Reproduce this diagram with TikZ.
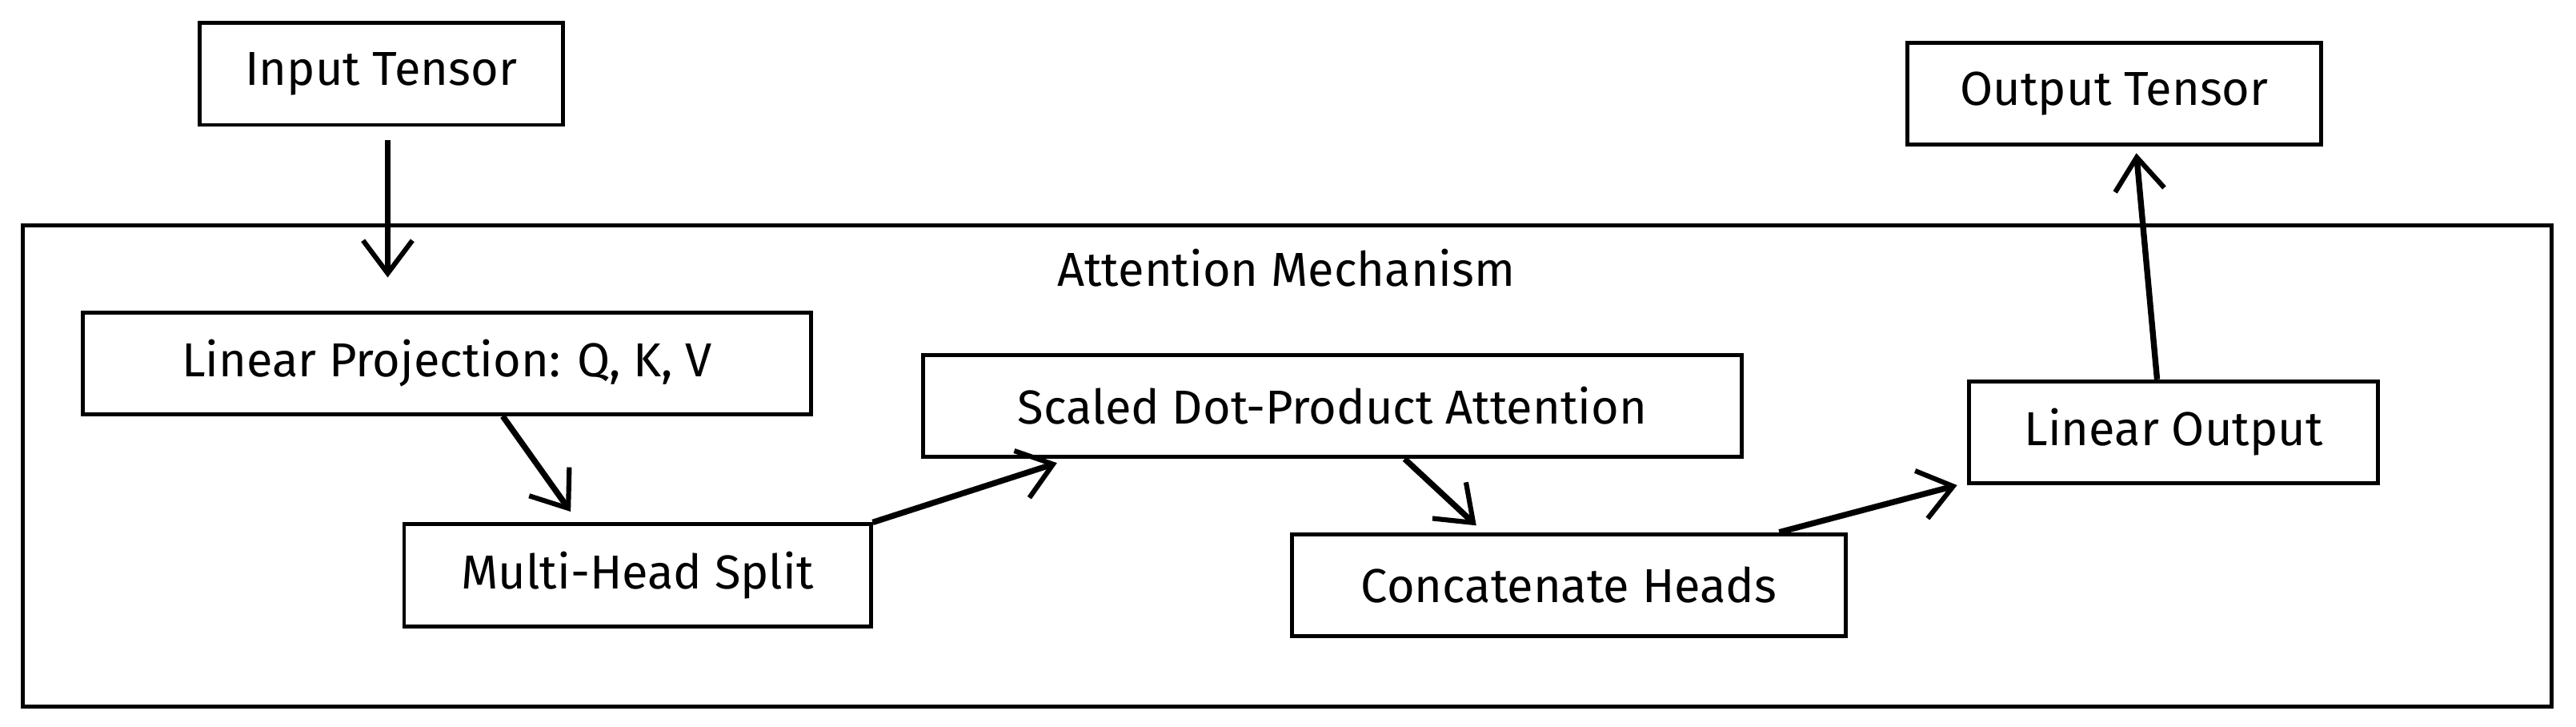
\documentclass[tikz,border=0pt]{standalone}
\usepackage{fontspec}
\setmainfont{Fira Sans}
\usetikzlibrary{arrows.meta, calc}
\tikzset{%
	box/.style={draw, line width=1.2pt, rectangle, inner sep=0pt, minimum height=31pt,%
		font=\fontsize{14.5}{16}\selectfont},
	group/.style={draw, line width=1.2pt, rectangle, inner sep=0pt},
	flow/.style={-{Straight Barb[length=10pt, width=15pt, line width=1.5pt]}, line width=1.8pt}
}
\begin{document}
\begin{tikzpicture}[x=0.5pt, y=-0.5pt]
	\useasboundingbox (0,0) rectangle (1568,442);
	\node[group, minimum width=769.5pt, minimum height=146.5pt] (attn) at (783.5,283.5) {};
	\node[font=\fontsize{14.5}{16}\selectfont] (title) at (783,163) {Attention Mechanism};

	\node[box, minimum width=110.5pt] (input) at (232,45) {Input Tensor};
	\node[box, minimum width=126pt] (output) at (1287,57) {Output Tensor};
	\node[box, minimum width=221.5pt] (lin) at (272,221) {Linear Projection: Q, K, V};
	\node[box, minimum width=142pt] (split) at (388,350) {Multi-Head Split};
	\node[box, minimum width=249pt] (scaled) at (811,247) {Scaled Dot-Product Attention};
	\node[box, minimum width=168.5pt] (concat) at (955,356) {Concatenate Heads};
	\node[box, minimum width=124.5pt] (linout) at (1323,263) {Linear Output};

	\draw[flow, shorten <=4pt, shorten >=10pt] ([xshift=2pt]input.south) to ([xshift=2pt]input.south |- lin.north);
	\draw[flow, shorten >=4pt] ([xshift=17pt]lin.south) to ([xshift=-18pt]split.north);
	\draw[flow, shorten >=4pt] (split.north east) to ([xshift=-80pt]scaled.south);
	\draw[flow, shorten >=3pt] ([xshift=22pt]scaled.south) to ([xshift=-26pt]concat.north);
	\draw[flow] ([xshift=64pt]concat.north) to ([xshift=-3pt]linout.south west);
	\draw[flow, shorten >=2pt] ([xshift=-5pt]linout.north) to ([xshift=6.5pt]output.south);
\end{tikzpicture}
\end{document}
